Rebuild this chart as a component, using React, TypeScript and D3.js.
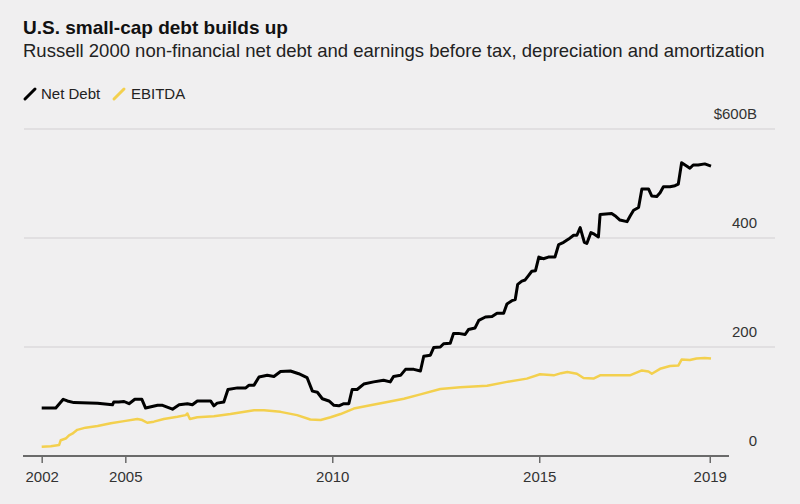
import React, { useEffect, useRef } from 'react';
import * as d3 from 'd3';

// Russell 2000 non-financial net debt, $B
const debtYears = [
  2002.98, 2003.32, 2003.5, 2003.6, 2003.76, 2004.33, 2004.69, 2004.72, 2004.84, 2004.97,
  2005.09, 2005.23, 2005.4, 2005.49, 2005.78, 2005.9, 2006.14, 2006.3, 2006.5, 2006.62,
  2006.74, 2007.06, 2007.14, 2007.22, 2007.38, 2007.48, 2007.71, 2007.91, 2007.99, 2008.11,
  2008.23, 2008.43, 2008.59, 2008.75, 2008.99, 2009.19, 2009.39, 2009.52, 2009.64, 2009.76,
  2009.92, 2010.04, 2010.16, 2010.28, 2010.4, 2010.48, 2010.6, 2010.76, 2011.0, 2011.24,
  2011.4, 2011.48, 2011.65, 2011.77, 2011.97, 2012.13, 2012.21, 2012.37, 2012.45, 2012.61,
  2012.69, 2012.85, 2012.93, 2013.05, 2013.21, 2013.29, 2013.45, 2013.54, 2013.7, 2013.86,
  2013.98, 2014.14, 2014.22, 2014.34, 2014.42, 2014.48, 2014.58, 2014.66, 2014.74, 2014.82,
  2014.91, 2014.99, 2015.1, 2015.22, 2015.38, 2015.47, 2015.59, 2015.71, 2015.83, 2015.91,
  2015.99, 2016.09, 2016.15, 2016.25, 2016.33, 2016.43, 2016.47, 2016.75, 2016.83, 2016.95,
  2017.12, 2017.2, 2017.28, 2017.4, 2017.48, 2017.64, 2017.72, 2017.84, 2017.92, 2018.0,
  2018.16, 2018.28, 2018.36, 2018.44, 2018.56, 2018.64, 2018.72, 2018.84, 2019.0, 2019.15,
];
const debtValues = [
  88, 88, 104, 101, 98, 97, 94, 99, 99, 100,
  96, 104, 104, 88, 93, 93, 86, 94, 96, 94,
  101, 101, 92, 97, 99, 122, 125, 125, 130, 130,
  145, 148, 146, 155, 156, 151, 144, 119, 117, 105,
  101, 93, 92, 96, 96, 122, 122, 132, 136, 139,
  136, 146, 148, 159, 159, 156, 183, 185, 199, 200,
  206, 207, 225, 225, 223, 232, 235, 249, 255, 256,
  262, 262, 279, 285, 287, 315, 321, 323, 331, 339,
  340, 365, 362, 365, 365, 388, 392, 398, 405, 405,
  419, 392, 390, 410, 407, 402, 443, 445, 441, 433,
  430, 441, 451, 456, 490, 490, 477, 476, 483, 494,
  494, 496, 499, 538, 532, 528, 534, 534, 536, 532,
];

// EBITDA, $B
const ebitdaYears = [
  2002.98, 2003.2, 2003.4, 2003.44, 2003.56, 2003.64, 2003.72, 2003.84, 2004.04, 2004.33,
  2004.65, 2004.97, 2005.29, 2005.41, 2005.53, 2005.69, 2005.93, 2006.26, 2006.46, 2006.5,
  2006.56, 2006.74, 2007.14, 2007.54, 2008.11, 2008.35, 2008.75, 2009.15, 2009.47, 2009.72,
  2009.96, 2010.2, 2010.52, 2010.92, 2011.33, 2011.73, 2012.13, 2012.61, 2013.09, 2013.74,
  2014.22, 2014.7, 2015.02, 2015.35, 2015.53, 2015.68, 2015.91, 2016.07, 2016.31, 2016.47,
  2017.19, 2017.48, 2017.64, 2017.72, 2017.92, 2018.16, 2018.36, 2018.44, 2018.64, 2018.8,
  2019.0, 2019.15,
];
const ebitdaValues = [
  17, 18, 20, 29, 32, 38, 41, 48, 52, 55,
  60, 64, 68, 66, 61, 63, 68, 72, 75, 78,
  68, 71, 73, 77, 84, 84, 81, 75, 67, 66,
  71, 77, 87, 93, 99, 105, 113, 123, 126, 129,
  136, 142, 150, 148, 152, 154, 151, 143, 142, 148,
  148, 157, 155, 151, 160, 165, 166, 177, 176, 179,
  180, 179,
];

const xTicks = [2002.98, 2005, 2010, 2015, 2019.12];
const xTickLabels = ['2002', '2005', '2010', '2015', '2019'];
const yTicks = [0, 200, 400, 600];
const yTickLabels = ['0', '200', '400', '$600B'];

const W = 800;
const H = 504;
const FONT = '"Liberation Sans", Arial, Helvetica, sans-serif';
const BG = '#f0eff0';
const YELLOW = '#f3d04e';

const App: React.FC = () => {
  const svgRef = useRef<SVGSVGElement>(null);

  useEffect(() => {
    if (!svgRef.current) return;
    document.body.style.margin = '0';

    const svg = d3.select(svgRef.current);
    svg.selectAll('*').remove();

    svg.append('rect').attr('width', W).attr('height', H).attr('fill', BG);

    const x = d3.scaleLinear().domain([2002.98, 2019.15]).range([41.7, 711]);
    const y = d3.scaleLinear().domain([0, 600]).range([456, 129]);

    // Title block
    svg.append('text')
      .attr('x', 23).attr('y', 34)
      .style('font-family', FONT).style('font-size', '19px').style('font-weight', 'bold')
      .attr('fill', '#111')
      .text('U.S. small-cap debt builds up');
    svg.append('text')
      .attr('x', 23).attr('y', 57)
      .style('font-family', FONT).style('font-size', '18.5px')
      .attr('fill', '#222')
      .text('Russell 2000 non-financial net debt and earnings before tax, depreciation and amortization');

    // Legend
    const legend = svg.append('g').style('font-family', FONT).style('font-size', '15px');
    legend.append('line').attr('x1', 25).attr('y1', 99).attr('x2', 35).attr('y2', 89)
      .attr('stroke', '#000').attr('stroke-width', 3).attr('stroke-linecap', 'round');
    legend.append('text').attr('x', 41).attr('y', 99).attr('fill', '#222').text('Net Debt');
    legend.append('line').attr('x1', 114).attr('y1', 99).attr('x2', 124).attr('y2', 89)
      .attr('stroke', YELLOW).attr('stroke-width', 3).attr('stroke-linecap', 'round');
    legend.append('text').attr('x', 131).attr('y', 99).attr('fill', '#222').text('EBITDA');

    // Gridlines + right labels
    svg.append('g')
      .selectAll('line')
      .data(yTicks.filter(d => d > 0))
      .enter().append('line')
      .attr('x1', 24).attr('x2', 775)
      .attr('y1', d => y(d)).attr('y2', d => y(d))
      .attr('stroke', '#dcdadc').attr('stroke-width', 1.5);

    svg.append('g')
      .selectAll('text')
      .data(yTicks)
      .enter().append('text')
      .attr('x', 757)
      .attr('y', d => y(d) - 10)
      .attr('text-anchor', 'end')
      .style('font-family', FONT).style('font-size', '15px')
      .attr('fill', '#333')
      .text((d, i) => yTickLabels[i]);

    // X axis
    svg.append('line')
      .attr('x1', 23).attr('x2', 729)
      .attr('y1', y(0)).attr('y2', y(0))
      .attr('stroke', '#6a6a6a').attr('stroke-width', 2);

    const xAxis = svg.append('g')
      .attr('transform', `translate(0,${y(0)})`)
      .call(
        d3.axisBottom(x)
          .tickValues(xTicks)
          .tickFormat((d, i) => xTickLabels[i])
          .tickSizeInner(7)
          .tickSizeOuter(0)
          .tickPadding(8)
      );
    xAxis.select('.domain').remove();
    xAxis.selectAll('line').attr('stroke', '#6a6a6a').attr('stroke-width', 1.5);
    xAxis.selectAll('text')
      .attr('fill', '#333')
      .style('font-family', FONT)
      .style('font-size', '15px');

    // Lines
    const line = d3.line<[number, number]>()
      .x(d => x(d[0]))
      .y(d => y(d[1]));

    const ebitda = ebitdaYears.map((t, i) => [t, ebitdaValues[i]] as [number, number]);
    const debt = debtYears.map((t, i) => [t, debtValues[i]] as [number, number]);

    svg.append('path')
      .datum(ebitda)
      .attr('fill', 'none')
      .attr('stroke', YELLOW)
      .attr('stroke-width', 2.5)
      .attr('stroke-linejoin', 'round')
      .attr('d', line);

    svg.append('path')
      .datum(debt)
      .attr('fill', 'none')
      .attr('stroke', '#000')
      .attr('stroke-width', 3)
      .attr('stroke-linejoin', 'round')
      .attr('d', line);
  }, []);

  return (
    <svg
      ref={svgRef}
      width={W}
      height={H}
      style={{ position: 'absolute', left: 0, top: 0, display: 'block' }}
    />
  );
};

export default App;
